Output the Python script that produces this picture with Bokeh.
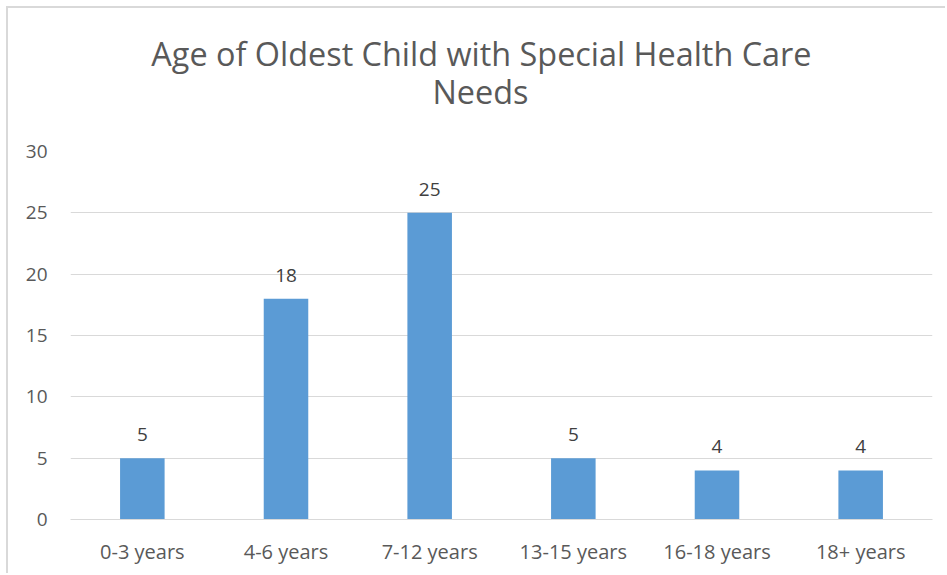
from bokeh.plotting import figure
from bokeh.models import ColumnDataSource, LabelSet, Title, FixedTicker, FactorRange, Range1d
from bokeh.core.properties import value
from bokeh.embed import file_html
from bokeh.resources import INLINE

# Survey counts by age group of the oldest child
categories = ["0-3 years", "4-6 years", "7-12 years", "13-15 years", "16-18 years", "18+ years"]
counts = [5, 18, 25, 5, 4, 4]
y_ticks = [0, 5, 10, 15, 20, 25, 30]
title_lines = ["Age of Oldest Child with Special Health Care", "Needs"]

FONT = "Open Sans"
BAR_COLOR = "#5B9BD5"
TEXT_GREY = "#595959"
GRID_GREY = "#d9d9d9"

W, H = 939, 567

source = ColumnDataSource(dict(cat=categories, val=counts, lbl=[str(v) for v in counts]))

p = figure(
    x_range=FactorRange(*categories, range_padding=0),
    y_range=Range1d(0, 30),
    width=W, height=H,
    output_backend="svg",
    toolbar_location=None,
    min_border_left=62, min_border_right=15,
    min_border_top=143, min_border_bottom=56,
)
p.styles = {
    "margin-left": "6px", "margin-top": "6px",
    "border-left": f"2px solid {GRID_GREY}", "border-top": f"2px solid {GRID_GREY}",
}
p.outline_line_color = None
p.background_fill_color = "white"
p.border_fill_color = "white"

p.vbar(x="cat", top="val", width=0.31, source=source, color=BAR_COLOR, line_color=None)

# value labels above bars
p.add_layout(LabelSet(
    x="cat", y="val", text="lbl", source=source,
    y_offset=17, text_align="center", text_baseline="alphabetic",
    text_font=value(FONT), text_font_size="19px", text_color="#404040",
))

# axes
p.yaxis.ticker = FixedTicker(ticks=y_ticks)
p.yaxis.axis_line_color = None
p.yaxis.major_tick_line_color = None
p.yaxis.minor_tick_line_color = None
p.yaxis.major_label_standoff = 17
p.yaxis.major_label_text_font = FONT
p.yaxis.major_label_text_font_size = "19px"
p.yaxis.major_label_text_color = TEXT_GREY

p.xaxis.axis_line_color = GRID_GREY
p.xaxis.major_tick_line_color = None
p.xaxis.minor_tick_line_color = None
p.xaxis.major_label_standoff = 12
p.xaxis.major_label_text_font = FONT
p.xaxis.major_label_text_font_size = "20px"
p.xaxis.major_label_text_color = TEXT_GREY

p.xgrid.grid_line_color = None
p.ygrid.grid_line_color = GRID_GREY
p.ygrid.grid_line_width = 1

# blank panel keeping the title clear of the plot area
p.add_layout(Title(text=" ", text_font_size="2px", standoff=35), "above")

# two-line title, right-anchored so it sits centred over the whole chart
# (the lower line is added first so it ends up nearest the plot)
for text, off, stand in [(title_lines[1], 404, 0), (title_lines[0], 121, -16)]:
    p.add_layout(Title(
        text=text, align="right", offset=off, standoff=stand,
        text_font=FONT, text_font_size="32.4px", text_font_style="normal",
        text_color=TEXT_GREY,
    ), "above")

open("out.html", "w").write(file_html(p, INLINE))
